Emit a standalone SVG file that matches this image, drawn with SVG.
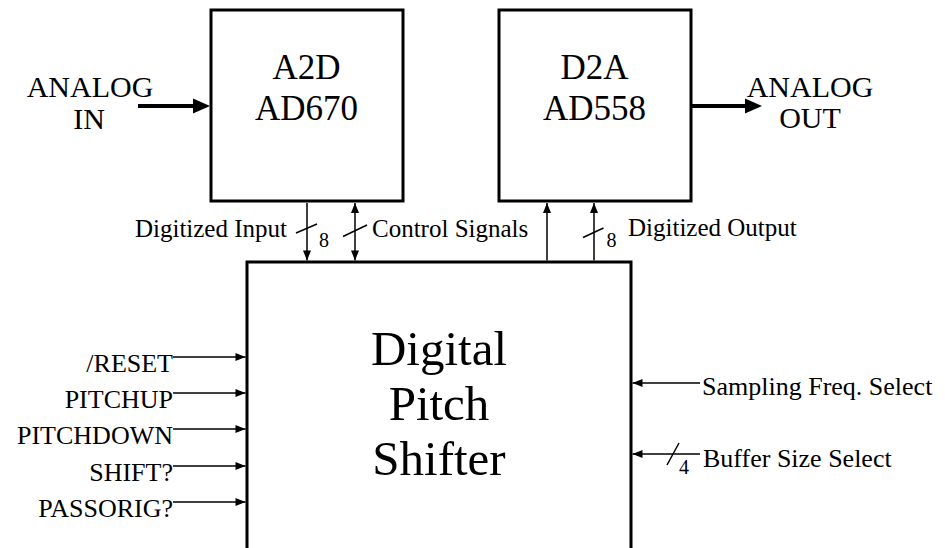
<svg xmlns="http://www.w3.org/2000/svg" width="945" height="548" viewBox="0 0 945 548">
<style>
.box{fill:#fff;stroke:#000;stroke-width:3}
.w{fill:none;stroke:#000;stroke-width:1.5}
.thick{fill:none;stroke:#000;stroke-width:4}
.t{font-family:"Liberation Serif","Times New Roman",serif;fill:#000}
.big{font-size:35px;text-anchor:middle}
.huge{font-size:49px;text-anchor:middle}
.an{font-size:30px;text-anchor:middle}
.lab{font-size:25px}
.side{font-size:26px}
.num{font-size:20px}
</style>
<defs>
<marker id="a" markerUnits="userSpaceOnUse" markerWidth="12" markerHeight="10" refX="10" refY="4" orient="auto-start-reverse" overflow="visible">
<path d="M0,0 L10,4 L0,8 z" fill="#000"/>
</marker>
<marker id="A" markerUnits="userSpaceOnUse" markerWidth="18" markerHeight="16" refX="0" refY="7.5" orient="auto" overflow="visible">
<path d="M0,0 L17,7.5 L0,15 z" fill="#000"/>
</marker>
</defs>

<g id="a2d">
<rect class="box" x="211" y="10" width="192" height="191"/>
<text class="t big" x="306.5" y="79">A2D</text>
<text class="t big" x="306.5" y="120">AD670</text>
</g>

<g id="d2a">
<rect class="box" x="499" y="10" width="192" height="191"/>
<text class="t big" x="594.5" y="79">D2A</text>
<text class="t big" x="594.5" y="120">AD558</text>
</g>

<g id="shifter">
<path class="box" d="M247,560 V262 H631 V560"/>
<text class="t huge" x="439" y="365">Digital</text>
<text class="t huge" x="439" y="420">Pitch</text>
<text class="t huge" x="439" y="475">Shifter</text>
</g>

<g id="analog-in">
<text class="t an" x="90" y="97">ANALOG</text>
<text class="t an" x="89" y="129">IN</text>
</g>

<g id="analog-out">
<text class="t an" x="810" y="97">ANALOG</text>
<text class="t an" x="810" y="128">OUT</text>
</g>

<g id="connectors">
<line class="thick" x1="138" y1="106" x2="193" y2="106" marker-end="url(#A)"/>
<line class="thick" x1="692" y1="106" x2="745" y2="106" marker-end="url(#A)"/>

<line class="w" x1="307" y1="203" x2="307" y2="260.5" marker-end="url(#a)"/>
<line class="w" x1="296" y1="233" x2="317" y2="224"/>
<line class="w" x1="355" y1="203" x2="355" y2="260.5" marker-start="url(#a)" marker-end="url(#a)"/>
<line class="w" x1="343" y1="236.5" x2="367" y2="225"/>
<line class="w" x1="547" y1="260.5" x2="547" y2="203" marker-end="url(#a)"/>
<line class="w" x1="594" y1="260.5" x2="594" y2="203" marker-end="url(#a)"/>
<line class="w" x1="583" y1="237.5" x2="603.5" y2="228"/>

<line class="w" x1="173" y1="357" x2="245.5" y2="357" marker-end="url(#a)"/>
<line class="w" x1="173" y1="393" x2="245.5" y2="393" marker-end="url(#a)"/>
<line class="w" x1="173" y1="429" x2="245.5" y2="429" marker-end="url(#a)"/>
<line class="w" x1="173" y1="466" x2="245.5" y2="466" marker-end="url(#a)"/>
<line class="w" x1="173" y1="502" x2="245.5" y2="502" marker-end="url(#a)"/>

<line class="w" x1="700" y1="383" x2="632.5" y2="383" marker-end="url(#a)"/>
<line class="w" x1="700" y1="454" x2="632.5" y2="454" marker-end="url(#a)"/>
<line class="w" x1="667" y1="465" x2="679" y2="443"/>
</g>

<g id="labels">
<text class="t lab" x="287" y="237" text-anchor="end">Digitized Input</text>
<text class="t num" x="319" y="247">8</text>
<text class="t lab" x="372" y="237">Control Signals</text>
<text class="t num" x="606.5" y="247">8</text>
<text class="t lab" x="628" y="236">Digitized Output</text>

<text class="t side" x="173" y="372" text-anchor="end">/RESET</text>
<text class="t side" x="173" y="408" text-anchor="end">PITCHUP</text>
<text class="t side" x="173" y="444" text-anchor="end">PITCHDOWN</text>
<text class="t side" x="173" y="481" text-anchor="end">SHIFT?</text>
<text class="t side" x="173" y="517" text-anchor="end">PASSORIG?</text>

<text class="t side" x="702" y="395">Sampling Freq. Select</text>
<text class="t side" x="703" y="467">Buffer Size Select</text>
<text class="t num" x="679" y="474">4</text>
</g>
</svg>
